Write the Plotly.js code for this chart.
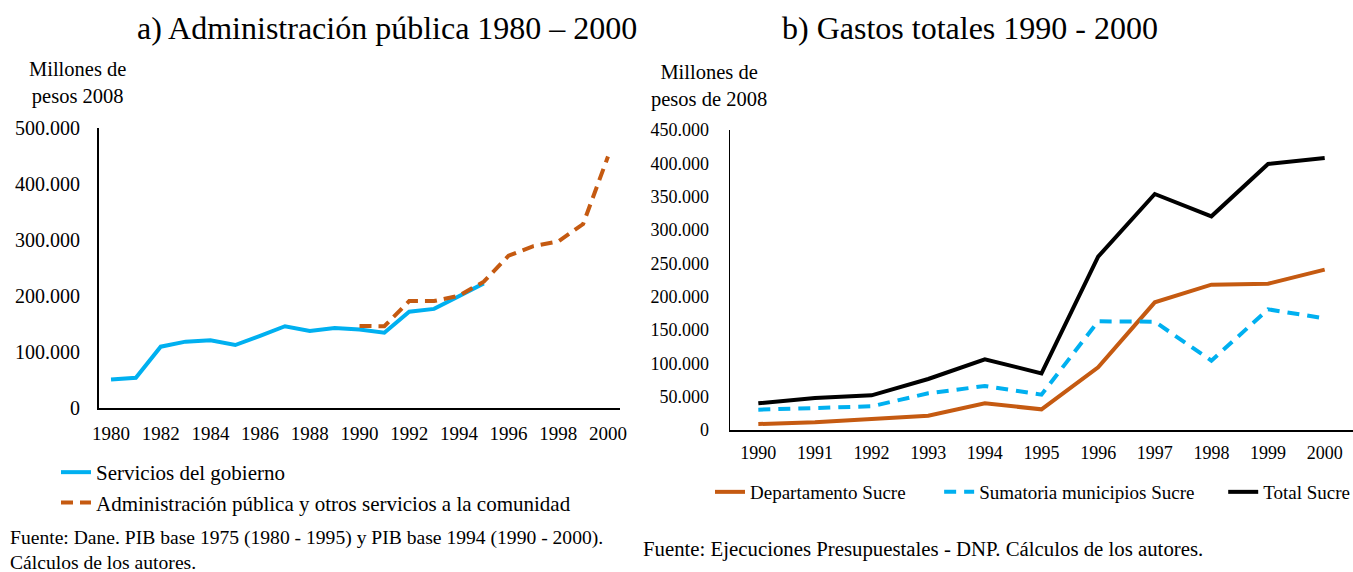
<!DOCTYPE html>
<html><head><meta charset="utf-8">
<script src="https://cdn.plot.ly/plotly-3.0.1.min.js"></script>
<style>html,body{margin:0;padding:0;background:#fff;overflow:hidden}#c{width:1353px;height:572px}</style>
</head><body><div id="c"></div>
<script>
// Panel a
const yearsA = [1980,1981,1982,1983,1984,1985,1986,1987,1988,1989,1990,1991,1992,1993,1994,1995];
const serviciosGobierno = [51000,54000,109500,118500,121000,112500,129000,146000,137500,143000,140000,134500,172000,177000,199500,222500];
const yearsA2 = [1990,1991,1992,1993,1994,1995,1996,1997,1998,1999,2000];
const adminPublica = [146500,146000,191000,191000,200500,225500,272000,289000,297500,328500,449000];
// Panel b
const yearsB = [1990,1991,1992,1993,1994,1995,1996,1997,1998,1999,2000];
const deptoSucre = [9000,11500,16500,21500,40000,31000,94000,191500,218000,219500,240500];
const municipiosSucre = [30500,33000,35500,55000,66000,53000,163000,162500,104000,181000,167500];
const totalSucre = [40000,48000,52000,76500,106000,85000,260000,354000,320500,399000,408000];

const W = 1353, H = 572;
const px = v => v / W, py = v => 1 - v / H;
const FONT = 'Liberation Serif, Times New Roman, serif';
const BLUE = '#00B0F0', ORANGE = '#C55A11', BLACK = '#000000';
const NB = n => '\u00a0'.repeat(n);

const traces = [
  {x: yearsA, y: serviciosGobierno, name: 'Servicios del gobierno', type: 'scatter', mode: 'lines',
   line: {color: BLUE, width: 4}, xaxis: 'x', yaxis: 'y', legend: 'legend'},
  {x: yearsA2, y: adminPublica, name: 'Administración pública y otros servicios a la comunidad', type: 'scatter', mode: 'lines',
   line: {color: ORANGE, width: 4, dash: '12px,7px'}, xaxis: 'x', yaxis: 'y', legend: 'legend'},
  {x: yearsB, y: deptoSucre, name: 'Departamento Sucre' + NB(6), type: 'scatter', mode: 'lines',
   line: {color: ORANGE, width: 4}, xaxis: 'x2', yaxis: 'y2', legend: 'legend2'},
  {x: yearsB, y: municipiosSucre, name: 'Sumatoria municipios Sucre' + NB(5), type: 'scatter', mode: 'lines',
   line: {color: BLUE, width: 4, dash: '12px,8px'}, xaxis: 'x2', yaxis: 'y2', legend: 'legend2'},
  {x: yearsB, y: totalSucre, name: 'Total Sucre', type: 'scatter', mode: 'lines',
   line: {color: BLACK, width: 4}, xaxis: 'x2', yaxis: 'y2', legend: 'legend2'}
];

const axisCommon = {showgrid: false, zeroline: false, showline: true, linecolor: '#000', linewidth: 1.5,
  ticks: '', fixedrange: true, tickfont: {family: FONT, size: 19, color: '#000'}};

const layout = {
  width: W, height: H, margin: {l: 0, r: 0, t: 0, b: 0, autoexpand: false},
  paper_bgcolor: '#fff', plot_bgcolor: '#fff',
  separators: ',.',
  font: {family: FONT, color: '#000'},
  xaxis: Object.assign({}, axisCommon, {domain: [px(98.6), px(620.4)], range: [1979.5, 2000.5],
    tickmode: 'linear', tick0: 1980, dtick: 2, anchor: 'y', ticklabelstandoff: 8}),
  yaxis: Object.assign({}, axisCommon, {domain: [py(408), py(128)], range: [0, 500000],
    tickmode: 'linear', tick0: 0, dtick: 100000, tickformat: ',d', anchor: 'x', ticklabelstandoff: 13,
    tickfont: {family: FONT, size: 20, color: '#000'}}),
  xaxis2: Object.assign({}, axisCommon, {domain: [px(730), px(1353)], range: [1989.5, 2000.5],
    tickmode: 'linear', tick0: 1990, dtick: 1, anchor: 'y2', ticklabelstandoff: 6, tickfont: {family: FONT, size: 18, color: '#000'}}),
  yaxis2: Object.assign({}, axisCommon, {domain: [py(430), py(130)], range: [0, 450000],
    tickmode: 'linear', tick0: 0, dtick: 50000, tickformat: ',d', anchor: 'x2', ticklabelstandoff: 16, tickfont: {family: FONT, size: 18, color: '#000'}}),
  showlegend: true,
  legend: {x: px(56), y: py(452), xanchor: 'left', yanchor: 'top', orientation: 'v',
    font: {family: FONT, size: 21, color: '#000'}, tracegroupgap: 0, bgcolor: 'rgba(0,0,0,0)', itemclick: false, itemdoubleclick: false},
  legend2: {x: px(710), y: py(473), xanchor: 'left', yanchor: 'top', orientation: 'h',
    font: {family: FONT, size: 19, color: '#000'}, bgcolor: 'rgba(0,0,0,0)', itemclick: false, itemdoubleclick: false},
  annotations: [
    {text: 'a) Administración pública 1980 – 2000', x: px(387), y: py(28), xref: 'paper', yref: 'paper',
     showarrow: false, font: {family: FONT, size: 32, color: '#000'}, xanchor: 'center', yanchor: 'middle'},
    {text: 'b) Gastos totales 1990 - 2000', x: px(970), y: py(28), xref: 'paper', yref: 'paper',
     showarrow: false, font: {family: FONT, size: 32, color: '#000'}, xanchor: 'center', yanchor: 'middle'},
    {text: 'Millones de<br>pesos 2008', x: px(77), y: py(83), xref: 'paper', yref: 'paper',
     showarrow: false, font: {family: FONT, size: 20.5, color: '#000'}, xanchor: 'center', yanchor: 'middle', align: 'center'},
    {text: 'Millones de<br>pesos de 2008', x: px(709), y: py(86), xref: 'paper', yref: 'paper',
     showarrow: false, font: {family: FONT, size: 20.5, color: '#000'}, xanchor: 'center', yanchor: 'middle', align: 'center'},
    {text: 'Fuente: Dane. PIB base 1975 (1980 - 1995) y PIB base 1994 (1990 - 2000).<br>Cálculos de los autores.',
     x: px(8), y: py(550), xref: 'paper', yref: 'paper', showarrow: false, align: 'left',
     font: {family: FONT, size: 19.6, color: '#000'}, xanchor: 'left', yanchor: 'middle'},
    {text: 'Fuente: Ejecuciones Presupuestales - DNP. Cálculos de los autores.',
     x: px(641), y: py(549), xref: 'paper', yref: 'paper', showarrow: false, align: 'left',
     font: {family: FONT, size: 20.8, color: '#000'}, xanchor: 'left', yanchor: 'middle'}
  ]
};

Plotly.newPlot('c', traces, layout, {displayModeBar: false, staticPlot: true});
</script>
</body></html>
